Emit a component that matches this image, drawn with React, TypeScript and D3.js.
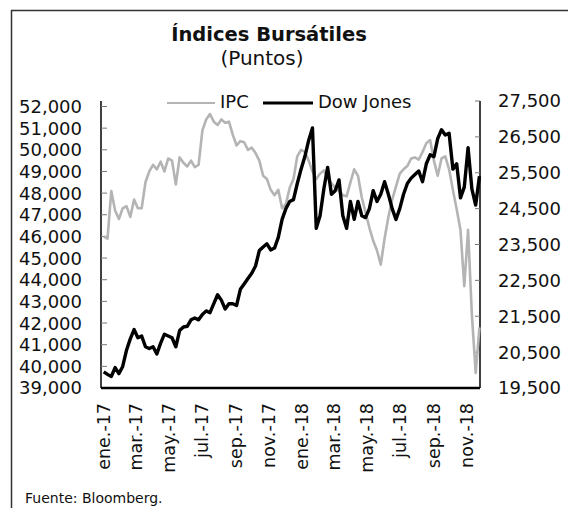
import { useEffect, useRef } from 'react';
import * as d3 from 'd3';

// semanas (viernes) desde el 6 de enero de 2017 hasta el 30 de noviembre de 2018
const firstWeek = new Date(2017, 0, 6);
const lastWeek = new Date(2018, 10, 30);

// IPC (eje izquierdo), cierres semanales
const ipc = [
  46000, 45900, 48100, 47200, 46800, 47300, 47400, 46900, 47700, 47300,
  47300, 48500, 49000, 49300, 49100, 49450, 49000, 49600, 49500, 48400,
  49650, 49400, 49230, 49500, 49200, 49300, 50900, 51400, 51650, 51300,
  51150, 51400, 51250, 51300, 50700, 50200, 50400, 50350, 50000, 50100,
  49850, 49500, 48800, 48650, 48150, 47900, 48150, 47300, 47500, 48250,
  48650, 49700, 50000, 49900, 49500, 49000, 48650, 48900, 49050, 48700,
  48450, 48250, 48100, 47900, 47850, 48500, 49100, 48800, 47800, 47100,
  46400, 45800, 45350, 44700, 45900, 46900, 47700, 48300, 48900, 49100,
  49250, 49600, 49650, 49550, 49900, 50300, 50450, 49500, 48800, 49600,
  49700, 49100, 48150, 47250, 46300, 43700, 46300, 42400, 39700, 41800,
];

// Dow Jones (eje derecho)
const dowJones = [
  19950, 19880, 19820, 20070, 19900, 20100, 20550, 20870, 21130, 20900,
  20950, 20650, 20600, 20650, 20450, 20750, 21000, 20950, 20900, 20650,
  21100, 21200, 21220, 21400, 21450, 21400, 21550, 21650, 21600, 21850,
  22100, 21950, 21700, 21850, 21850, 21800, 22250, 22400, 22550, 22700,
  22900, 23330, 23430, 23520, 23350, 23400, 23700, 24200, 24500, 24700,
  24750, 25200, 25600, 25950, 26400, 26750, 23950, 24300, 25050, 25650,
  24900, 25000, 25300, 24300, 23950, 24700, 24200, 24700, 24300, 24250,
  24500, 25000, 24700, 24900, 25250, 24900, 24500, 24200, 24500, 24900,
  25200, 25350, 25450, 25550, 25250, 25750, 26000, 25950, 26450, 26700,
  26550, 26600, 25600, 25750, 24800, 25100, 26200, 25050, 24600, 25400,
];

const leftTicks = [39000, 40000, 41000, 42000, 43000, 44000, 45000, 46000, 47000, 48000, 49000, 50000, 51000, 52000];
const rightTicks = [19500, 20500, 21500, 22500, 23500, 24500, 25500, 26500, 27500];
const monthNames = ['ene.', 'feb.', 'mar.', 'abr.', 'may.', 'jun.', 'jul.', 'ago.', 'sep.', 'oct.', 'nov.', 'dic.'];

export default function App() {
  const svgRef = useRef<SVGSVGElement>(null);

  useEffect(() => {
    if (!svgRef.current) return;
    const svg = d3.select(svgRef.current);
    svg.selectAll('*').remove();

    const font = 'DejaVu Sans';
    const left = 101, right = 480, bottom = 388, top = 101;

    const weeks = d3.timeFriday.range(firstWeek, d3.timeDay.offset(lastWeek, 1));

    const x = d3.scaleTime()
      .domain([new Date(2017, 0, 1), new Date(2018, 11, 1)])
      .range([left, right]);
    const yL = d3.scaleLinear().domain([39000, 52000]).range([bottom, 106.5]);
    const yR = d3.scaleLinear().domain([19500, 27500]).range([bottom, top]);

    // marco
    svg.append('line').attr('x1', 11).attr('x2', 568).attr('y1', 10.5).attr('y2', 10.5)
      .attr('stroke', '#333').attr('stroke-width', 1.5);
    svg.append('line').attr('x1', 11.5).attr('x2', 11.5).attr('y1', 10).attr('y2', 508)
      .attr('stroke', '#333').attr('stroke-width', 1.5);

    // títulos
    svg.append('text').attr('x', 269).attr('y', 41).attr('text-anchor', 'middle')
      .attr('font-family', font).attr('font-weight', 'bold').attr('font-size', 19.5)
      .attr('fill', '#111').text('Índices Bursátiles');
    svg.append('text').attr('x', 262).attr('y', 64.5).attr('text-anchor', 'middle')
      .attr('font-family', font).attr('font-size', 20)
      .attr('fill', '#111').text('(Puntos)');

    // eje izquierdo
    const gl = svg.append('g');
    gl.append('line').attr('x1', left).attr('x2', left).attr('y1', top).attr('y2', bottom)
      .attr('stroke', '#000').attr('stroke-width', 1.5);
    gl.selectAll('line.t').data(leftTicks).enter().append('line')
      .attr('x1', left).attr('x2', left + 6)
      .attr('y1', d => yL(d)).attr('y2', d => yL(d))
      .attr('stroke', '#777').attr('stroke-width', 1);
    gl.selectAll('text').data(leftTicks).enter().append('text')
      .attr('x', 82).attr('y', d => yL(d)).attr('dy', '0.36em')
      .attr('text-anchor', 'end').attr('font-family', font).attr('font-size', 18)
      .attr('fill', '#111').text(d => d3.format(',')(d));

    // eje derecho
    const gr = svg.append('g');
    gr.append('line').attr('x1', right).attr('x2', right).attr('y1', top).attr('y2', bottom)
      .attr('stroke', '#000').attr('stroke-width', 1.5);
    gr.selectAll('line.t').data(rightTicks).enter().append('line')
      .attr('x1', right - 5).attr('x2', right)
      .attr('y1', d => yR(d)).attr('y2', d => yR(d))
      .attr('stroke', '#777').attr('stroke-width', 1);
    gr.selectAll('text').data(rightTicks).enter().append('text')
      .attr('x', 498).attr('y', d => yR(d)).attr('dy', '0.36em')
      .attr('text-anchor', 'start').attr('font-family', font).attr('font-size', 18)
      .attr('fill', '#111').text(d => d3.format(',')(d));

    // eje x
    const months = d3.timeMonth.every(2)!.range(new Date(2017, 0, 1), new Date(2018, 11, 1));
    svg.selectAll('text.xl').data(months).enter().append('text')
      .attr('class', 'xl')
      .attr('transform', d => `translate(${x(d) + 3},403) rotate(-90)`)
      .attr('dy', '0.35em')
      .attr('text-anchor', 'end').attr('font-family', font).attr('font-size', 17.5)
      .attr('fill', '#111')
      .text(d => `${monthNames[d.getMonth()]}-${String(d.getFullYear()).slice(2)}`);

    // series
    const lineIpc = d3.line<number>()
      .x((_, i) => x(weeks[i]))
      .y(d => yL(d));
    const lineDow = d3.line<number>()
      .x((_, i) => x(weeks[i]))
      .y(d => yR(d));

    svg.append('path').datum(ipc).attr('d', lineIpc)
      .attr('fill', 'none').attr('stroke', '#b4b4b4').attr('stroke-width', 2.6)
      .attr('stroke-linejoin', 'round');
    svg.append('path').datum(dowJones).attr('d', lineDow)
      .attr('fill', 'none').attr('stroke', '#000').attr('stroke-width', 3.4)
      .attr('stroke-linejoin', 'round');

    svg.append('line').attr('x1', left).attr('x2', right).attr('y1', bottom).attr('y2', bottom)
      .attr('stroke', '#000').attr('stroke-width', 2.5);

    // leyenda
    const lg = svg.append('g');
    lg.append('line').attr('x1', 167).attr('x2', 215).attr('y1', 103).attr('y2', 103)
      .attr('stroke', '#b4b4b4').attr('stroke-width', 2);
    lg.append('text').attr('x', 220).attr('y', 108).attr('font-family', font).attr('font-size', 18)
      .attr('fill', '#111').text('IPC');
    lg.append('line').attr('x1', 263).attr('x2', 313).attr('y1', 103).attr('y2', 103)
      .attr('stroke', '#000').attr('stroke-width', 3);
    lg.append('text').attr('x', 318).attr('y', 108).attr('font-family', font).attr('font-size', 18)
      .attr('fill', '#111').text('Dow Jones');

    // fuente
    svg.append('text').attr('x', 25).attr('y', 503).attr('font-family', font).attr('font-size', 14)
      .attr('fill', '#111').text('Fuente: Bloomberg.');
  }, []);

  return (
    <svg ref={svgRef} width={568} height={508}
      style={{ position: 'absolute', left: 0, top: 0, background: '#fff' }} />
  );
}
